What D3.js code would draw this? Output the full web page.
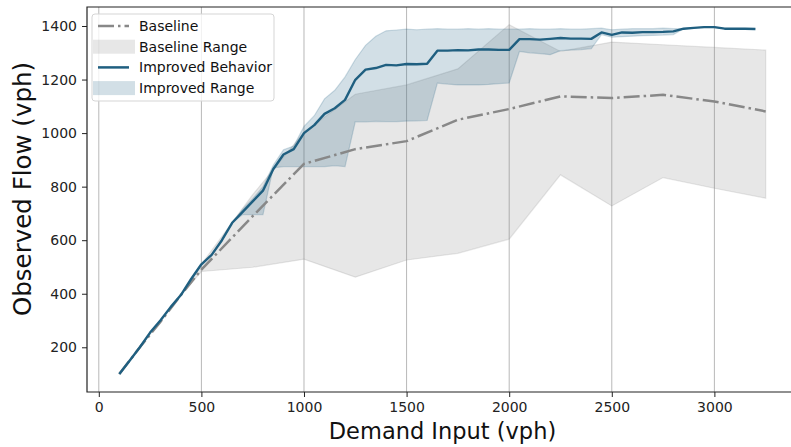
<!DOCTYPE html>
<html>
<head>
<meta charset="utf-8">
<script src="https://cdn.jsdelivr.net/npm/d3@7"></script>
<style>
  body { margin: 0; background: #fff; }
  svg { display: block; font-family: 'DejaVu Sans', sans-serif; }
</style>
</head>
<body>
<svg id="chart" width="791" height="447"></svg>
<script>
// baseline runs (coarse demand steps)
const baseDemand = [100, 200, 300, 400, 500, 750, 1000, 1250, 1500, 1750, 2000, 2250, 2500, 2750, 3000, 3250]
const baseMean = [100, 200, 295, 395, 490, 690, 885, 940, 970, 1050, 1090, 1137, 1131, 1143, 1118, 1081]
const baseLow = [100, 200, 295, 395, 483, 499, 529, 462, 526, 551, 604, 844, 728, 834, 794, 757]
const baseHigh = [100, 200, 295, 395, 510, 770, 1003, 1145, 1180, 1240, 1405, 1305, 1340, 1330, 1320, 1310]

// improved behavior (fine demand steps)
const impDemand = [100, 150, 200, 250, 300, 350, 400, 450, 500, 550, 600, 650, 700, 750, 800, 850, 900, 950,
  1000, 1050, 1100, 1150, 1200, 1250, 1300, 1350, 1400, 1450, 1500, 1550, 1600, 1650, 1700, 1750, 1800, 1850,
  1900, 1950, 2000, 2050, 2100, 2150, 2200, 2250, 2300, 2350, 2400, 2450, 2500, 2550, 2600, 2650, 2700, 2750,
  2800, 2850, 2900, 2950, 3000, 3050, 3100, 3150, 3200]
const impMean = [100, 150, 200, 255, 300, 350, 395, 455, 510, 545, 600, 665, 705, 745, 785, 865, 920, 940,
  1000, 1030, 1072, 1093, 1124, 1199, 1237, 1243, 1255, 1253, 1258, 1257, 1259, 1308, 1308, 1310, 1309, 1312,
  1312, 1311, 1311, 1351, 1351, 1349, 1352, 1355, 1353, 1353, 1352, 1376, 1367, 1376, 1375, 1377, 1377, 1378,
  1380, 1390, 1393, 1396, 1396, 1390, 1390, 1390, 1389]
const impLow = [100, 150, 200, 255, 300, 350, 395, 455, 510, 545, 600, 665, 695, 695, 695, 870, 875, 875,
  875, 875, 875, 878, 875, 1043, 1042, 1044, 1043, 1043, 1045, 1046, 1047, 1187, 1183, 1180, 1180, 1180,
  1182, 1185, 1187, 1305, 1300, 1297, 1293, 1308, 1310, 1312, 1315, 1368, 1358, 1360, 1362, 1364, 1365, 1366,
  1368, 1390, 1393, 1396, 1396, 1390, 1390, 1390, 1389]
const impHigh = [100, 150, 200, 255, 300, 350, 395, 455, 510, 545, 600, 665, 715, 755, 800, 880, 938, 952,
  1025, 1065, 1128, 1160, 1210, 1275, 1328, 1362, 1382, 1385, 1388, 1386, 1388, 1390, 1388, 1388, 1390, 1388,
  1390, 1388, 1388, 1388, 1390, 1388, 1388, 1390, 1388, 1388, 1390, 1392, 1386, 1388, 1390, 1390, 1390, 1392,
  1390, 1390, 1393, 1396, 1396, 1390, 1390, 1390, 1389]

const xTicks = [0, 500, 1000, 1500, 2000, 2500, 3000]
const yTicks = [200, 400, 600, 800, 1000, 1200, 1400]

const baseColor = '#888888'
const impColor = '#1f5f80'

const svg = d3.select('#chart')
const m = { left: 87, top: 7, right: 798, bottom: 392 }

const x = d3.scaleLinear().domain([-57.5, 3407.5]).range([m.left, m.right])
const y = d3.scaleLinear().domain([33, 1471]).range([m.bottom, m.top])

// vertical grid
svg.append('g')
  .selectAll('line')
  .data(xTicks)
  .join('line')
  .attr('x1', d => x(d)).attr('x2', d => x(d))
  .attr('y1', m.top).attr('y2', m.bottom)
  .attr('stroke', '#b8b8b8')
  .attr('stroke-width', 1)

const zip = (xs, lo, hi) => xs.map((d, i) => ({ x: d, lo: lo[i], hi: hi[i] }))
const band = d3.area().x(d => x(d.x)).y0(d => y(d.lo)).y1(d => y(d.hi))
const line = d3.line().x(d => x(d[0])).y(d => y(d[1]))

const plot = svg.append('g')

// baseline range
plot.append('path')
  .attr('d', band(zip(baseDemand, baseLow, baseHigh)))
  .attr('fill', baseColor).attr('fill-opacity', 0.2)
  .attr('stroke', baseColor).attr('stroke-opacity', 0.2).attr('stroke-width', 1.2)

// improved range
plot.append('path')
  .attr('d', band(zip(impDemand, impLow, impHigh)))
  .attr('fill', impColor).attr('fill-opacity', 0.2)
  .attr('stroke', impColor).attr('stroke-opacity', 0.2).attr('stroke-width', 1.2)

// baseline mean
plot.append('path')
  .attr('d', line(baseDemand.map((d, i) => [d, baseMean[i]])))
  .attr('fill', 'none')
  .attr('stroke', baseColor).attr('stroke-width', 2.5)
  .attr('stroke-dasharray', '16,4,2.5,4')

// improved mean
plot.append('path')
  .attr('d', line(impDemand.map((d, i) => [d, impMean[i]])))
  .attr('fill', 'none')
  .attr('stroke', impColor).attr('stroke-width', 2.4)
  .attr('stroke-linejoin', 'round')

// axes
const xAxis = svg.append('g')
  .attr('transform', `translate(0,${m.bottom})`)
  .call(d3.axisBottom(x).tickValues(xTicks).tickSize(5).tickPadding(5).tickFormat(d3.format('d')))
const yAxis = svg.append('g')
  .attr('transform', `translate(${m.left},0)`)
  .call(d3.axisLeft(y).tickValues(yTicks).tickSize(5).tickPadding(5).tickFormat(d3.format('d')))

for (const ax of [xAxis, yAxis]) {
  ax.select('.domain').remove()
  ax.selectAll('text').attr('font-size', 14).attr('fill', '#222').style('font-family', 'DejaVu Sans')
  ax.selectAll('line').attr('stroke', '#222').attr('stroke-width', 1)
}

// spines (left, top, bottom)
svg.append('path')
  .attr('d', `M${m.right},${m.top}H${m.left}V${m.bottom}H${m.right}`)
  .attr('fill', 'none')
  .attr('stroke', '#222')
  .attr('stroke-width', 1.2)

// axis titles
svg.append('text')
  .attr('x', (m.left + m.right) / 2).attr('y', 439)
  .attr('text-anchor', 'middle')
  .attr('font-size', 22.5)
  .attr('fill', '#111')
  .text('Demand Input (vph)')

svg.append('text')
  .attr('transform', 'translate(31,189) rotate(-90)')
  .attr('text-anchor', 'middle')
  .attr('font-size', 24.5)
  .attr('fill', '#111')
  .text('Observed Flow (vph)')

// legend
const legend = svg.append('g').attr('transform', 'translate(92,14)')
legend.append('rect')
  .attr('width', 182).attr('height', 87).attr('rx', 3)
  .attr('fill', '#fff').attr('fill-opacity', 0.8)
  .attr('stroke', '#d5d5d5')

const items = [
  { label: 'Baseline', type: 'dash' },
  { label: 'Baseline Range', type: 'patch', color: baseColor },
  { label: 'Improved Behavior', type: 'line' },
  { label: 'Improved Range', type: 'patch', color: impColor }
]

items.forEach((it, i) => {
  const g = legend.append('g').attr('transform', `translate(0,${12 + i * 20.7})`)
  if (it.type === 'patch') {
    g.append('rect')
      .attr('x', 1).attr('y', -7).attr('width', 42).attr('height', 14)
      .attr('fill', it.color).attr('fill-opacity', 0.2)
  } else {
    g.append('line')
      .attr('x1', 6).attr('x2', 37).attr('y1', 0).attr('y2', 0)
      .attr('stroke', it.type === 'dash' ? baseColor : impColor)
      .attr('stroke-width', 2.5)
      .attr('stroke-dasharray', it.type === 'dash' ? '16,4,2.5,4' : null)
  }
  g.append('text')
    .attr('x', 47).attr('y', 0).attr('dy', '0.35em')
    .attr('font-size', 14)
    .attr('fill', '#111')
    .text(it.label)
})
</script>
</body>
</html>
